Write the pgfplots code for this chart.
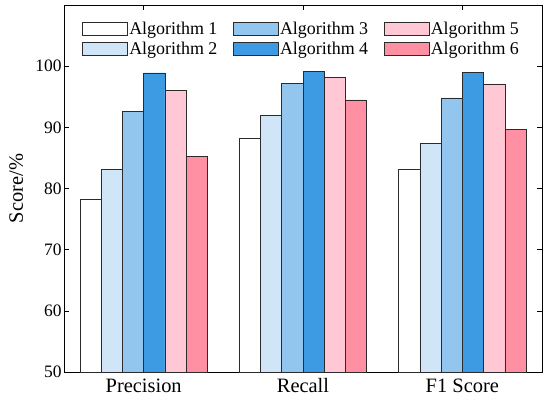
\documentclass[border=0pt]{standalone}
\usepackage{pgfplots}
\pgfplotsset{compat=1.18}
\usepackage{fontspec}
\setmainfont{Liberation Serif}
\definecolor{c1}{HTML}{FFFFFF}
\definecolor{c2}{HTML}{D0E6F8}
\definecolor{c3}{HTML}{92C6EE}
\definecolor{c4}{HTML}{3D9BE3}
\definecolor{c5}{HTML}{FFC8D4}
\definecolor{c6}{HTML}{FF8FA3}
\definecolor{edge}{HTML}{2B2B2B}
\begin{document}
\begin{tikzpicture}
\begin{axis}[
  scale only axis,
  width=478bp, height=367bp,
  ybar=0pt, bar width=0.1333,
  xmin=-0.5, xmax=2.5,
  ymin=50, ymax=110,
  ytick={50,60,70,80,90,100},
  xtick={0,1,2},
  xticklabels={Precision,Recall,F1 Score},
  tick align=inside,
  tick style={black, line width=0.5pt},
  major tick length=5bp,
  axis line style={black, line width=0.6pt},
  yticklabel style={font=\fontsize{17.5}{19}\selectfont, xshift=1bp},
  xticklabel style={font=\fontsize{20.5}{22}\selectfont, yshift=-3bp},
  /pgf/number format/assume math mode=true,
  ylabel={Score/\%},
  ylabel style={font=\fontsize{20.5}{22}\selectfont, at={(axis description cs:-0.1,0.5)}, anchor=center},
  legend style={draw=none, fill=none, at={(0.038,0.957)}, anchor=north west,
    inner sep=0pt, outer sep=0pt, nodes={inner sep=1.5bp},
    font=\fontsize{18}{19}\selectfont, column sep=0bp, row sep=3bp,
    /tikz/every even column/.append style={column sep=14bp}},
  legend columns=2,
  transpose legend,
  legend image code/.code={\draw[#1, draw=edge, line width=0.6pt] (0bp,-6.5bp) rectangle (45bp,6.5bp);},
  every axis plot/.append style={draw=edge, line width=0.6pt},
]
\addplot[fill=c1] coordinates {(0,78.3) (1,88.2) (2,83.1)};
\addplot[fill=c2] coordinates {(0,83.1) (1,92.0) (2,87.4)};
\addplot[fill=c3] coordinates {(0,92.6) (1,97.2) (2,94.8)};
\addplot[fill=c4] coordinates {(0,98.9) (1,99.2) (2,99.0)};
\addplot[fill=c5] coordinates {(0,96.1) (1,98.1) (2,97.1)};
\addplot[fill=c6] coordinates {(0,85.2) (1,94.5) (2,89.6)};
\legend{Algorithm 1,Algorithm 2,Algorithm 3,Algorithm 4,Algorithm 5,Algorithm 6}
\end{axis}
\useasboundingbox (current axis.south west) ++(-64bp,-27bp) rectangle ([shift={(8bp,5bp)}]current axis.north east);
\end{tikzpicture}
\end{document}
